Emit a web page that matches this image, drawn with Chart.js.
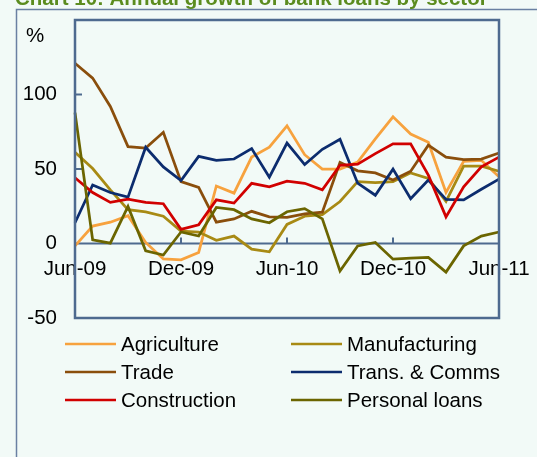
<!DOCTYPE html>
<html>
<head>
<meta charset="utf-8">
<script src="https://cdn.jsdelivr.net/npm/chart.js@4/dist/chart.umd.min.js"></script>
<style>
  html, body { margin: 0; padding: 0; background: #F2FAF7; }
  canvas { display: block; }
</style>
</head>
<body>
<canvas id="c" width="537" height="457"></canvas>
<script>
// Monthly observations, Jun-09 .. Jun-11
const months = [
  'Jun-09','Jul-09','Aug-09','Sep-09','Oct-09','Nov-09','Dec-09',
  'Jan-10','Feb-10','Mar-10','Apr-10','May-10','Jun-10',
  'Jul-10','Aug-10','Sep-10','Oct-10','Nov-10','Dec-10',
  'Jan-11','Feb-11','Mar-11','Apr-11','May-11','Jun-11'
];

// Annual growth, per cent
const agriculture   = [-1.6, 11.7, 14.3, 18.7, 0.7, -10.4, -11, -6, 38.6, 33.8, 58, 64.6, 79, 59.6, 49.9, 49.9, 54.7, 70.2, 85, 73.5, 68, 34.2, 55.2, 55.8, 44.8];
const manufacturing = [61.3, 50.3, 36, 22.7, 21.2, 18.3, 8.3, 7.7, 2.2, 5, -3.8, -5.6, 12.8, 18.3, 19.4, 28.2, 41.5, 40.8, 41.5, 47.4, 43.7, 28.2, 51.9, 51.9, 48.5];
const trade         = [121, 111, 92, 65, 64, 74.6, 41.5, 37.7, 14.3, 16.5, 21.6, 17.9, 17.5, 19.9, 21, 54.5, 48.8, 47.4, 42.6, 48.5, 66, 58, 56.3, 56.7, 60.7];
const transComms    = [13.9, 39.3, 34.2, 31.1, 64.6, 51.4, 42.3, 58.5, 55.8, 56.7, 63.7, 44.5, 67.4, 53, 63.2, 70, 40.5, 32.4, 49.9, 30, 42.6, 29.6, 29.3, 36.4, 43.2];
const construction  = [44.1, 34.2, 27.6, 29.8, 27.6, 26.7, 9.5, 12.6, 29.3, 27.1, 40.4, 38.1, 41.9, 40.4, 36, 52.5, 53.2, 60.3, 66.9, 66.9, 45.9, 17.9, 38.1, 51.4, 58];
const personalLoans = [87.8, 2.4, 0.2, 24.9, -4.9, -7.7, 7.7, 5, 24.2, 22.7, 16.5, 13.9, 21.3, 23.4, 16.5, -18.5, -1.6, 0.7, -10.5, -9.8, -9.3, -19.2, -1.6, 5, 7.7];

const seriesNames = ['Agriculture', 'Manufacturing', 'Trade', 'Trans. & Comms', 'Construction', 'Personal loans'];
const yTicks = [-50, 0, 50, 100, 150];
const labelStep = 6;

const FONT = '"Liberation Sans", Arial, sans-serif';
const FRAME = '#4E6A8F';

const colours = ['#F7A23E', '#A88A14', '#8A4E0C', '#0C2C6E', '#D10000', '#6B6500'];
const values = [agriculture, manufacturing, trade, transComms, construction, personalLoans];

// Scales must not push the plot box around with their label overhang
function noOverhang(s) {
  s.paddingTop = 0; s.paddingBottom = 0; s.paddingLeft = 0; s.paddingRight = 0;
}

// Page furniture: background, outer panel, title, unit label, axes, legend
const furniture = {
  id: 'furniture',
  beforeDraw(chart) {
    const ctx = chart.ctx;
    ctx.save();
    ctx.fillStyle = '#F2FAF7';
    ctx.fillRect(0, 0, chart.width, chart.height);
    ctx.strokeStyle = '#6A80A2';
    ctx.lineWidth = 1.5;
    ctx.strokeRect(16.5, 9.5, 700, 700);
    ctx.fillStyle = '#5B8C1F';
    ctx.font = 'bold 20.5px ' + FONT;
    ctx.textBaseline = 'alphabetic';
    ctx.fillText('Chart 10: Annual growth of bank loans by sector', 15, 5);
    ctx.fillStyle = '#000';
    ctx.font = '20.5px ' + FONT;
    ctx.textBaseline = 'middle';
    ctx.fillText('%', 26, 36);
    ctx.restore();
  },
  beforeDatasetsDraw(chart) {
    const ctx = chart.ctx;
    const a = chart.chartArea;
    const xs = chart.scales.x, ys = chart.scales.y;
    const y0 = ys.getPixelForValue(0);
    ctx.save();
    ctx.strokeStyle = FRAME;
    ctx.lineWidth = 2;
    ctx.beginPath();
    ctx.moveTo(a.left, y0);
    ctx.lineTo(a.right, y0);
    // tick marks on the category axis, pointing up
    for (let i = 0; i < months.length; i += labelStep) {
      const x = xs.getPixelForValue(i);
      ctx.moveTo(x, y0);
      ctx.lineTo(x, y0 - 6);
    }
    // tick marks on the value axis, pointing in
    yTicks.forEach(v => {
      const y = ys.getPixelForValue(v);
      ctx.moveTo(a.left, y);
      ctx.lineTo(a.left + 7, y);
    });
    ctx.stroke();
    ctx.restore();
  },
  afterDatasetsDraw(chart) {
    const ctx = chart.ctx;
    const a = chart.chartArea;
    ctx.save();
    ctx.strokeStyle = FRAME;
    ctx.lineWidth = 2.5;
    ctx.strokeRect(a.left, a.top, a.right - a.left, a.bottom - a.top);
    ctx.restore();
  },
  afterDraw(chart) {
    // two-column legend under the plot
    const ctx = chart.ctx;
    ctx.save();
    ctx.font = '20.5px ' + FONT;
    ctx.textBaseline = 'middle';
    chart.data.datasets.forEach((ds, i) => {
      const col = i % 2, row = Math.floor(i / 2);
      const x0 = col === 0 ? 65 : 291;
      const y = 344 + row * 28;
      ctx.strokeStyle = ds.borderColor;
      ctx.lineWidth = 2.5;
      ctx.beginPath();
      ctx.moveTo(x0, y);
      ctx.lineTo(x0 + 51, y);
      ctx.stroke();
      ctx.fillStyle = '#000';
      ctx.fillText(ds.label, x0 + 56, y + 1);
    });
    ctx.restore();
  }
};

new Chart(document.getElementById('c'), {
  type: 'line',
  data: {
    labels: months,
    datasets: seriesNames.map((name, i) => ({
      label: name,
      data: values[i],
      borderColor: colours[i],
      backgroundColor: colours[i],
      borderWidth: 2.75,
      pointRadius: 0,
      tension: 0,
      fill: false,
      clip: false,
      order: seriesNames.length - i
    }))
  },
  options: {
    responsive: false,
    devicePixelRatio: 1,
    animation: false,
    layout: { autoPadding: false, padding: { left: 0, top: 20, right: 38, bottom: 139 } },
    plugins: { legend: { display: false }, title: { display: false }, tooltip: { enabled: false } },
    scales: {
      x: {
        type: 'category',
        position: { y: 0 },
        offset: false,
        afterFit: noOverhang,
        grid: { display: false, drawTicks: false },
        border: { display: false },
        ticks: {
          autoSkip: false,
          maxRotation: 0,
          minRotation: 0,
          padding: 14,
          color: '#000',
          font: { family: FONT, size: 20.5 },
          callback(v, i) { return i % labelStep === 0 ? this.getLabelForValue(v) : ''; }
        }
      },
      y: {
        min: -50,
        max: 150,
        afterFit(s) { noOverhang(s); s.width = 75; },
        afterBuildTicks(s) { s.ticks = yTicks.map(v => ({ value: v })); },
        grid: { display: false, drawTicks: false },
        border: { display: false },
        ticks: {
          padding: 18,
          color: '#000',
          font: { family: FONT, size: 20.5 },
          callback(v) { return v === 150 ? '' : String(v); }
        }
      }
    }
  },
  plugins: [furniture]
});
</script>
</body>
</html>
